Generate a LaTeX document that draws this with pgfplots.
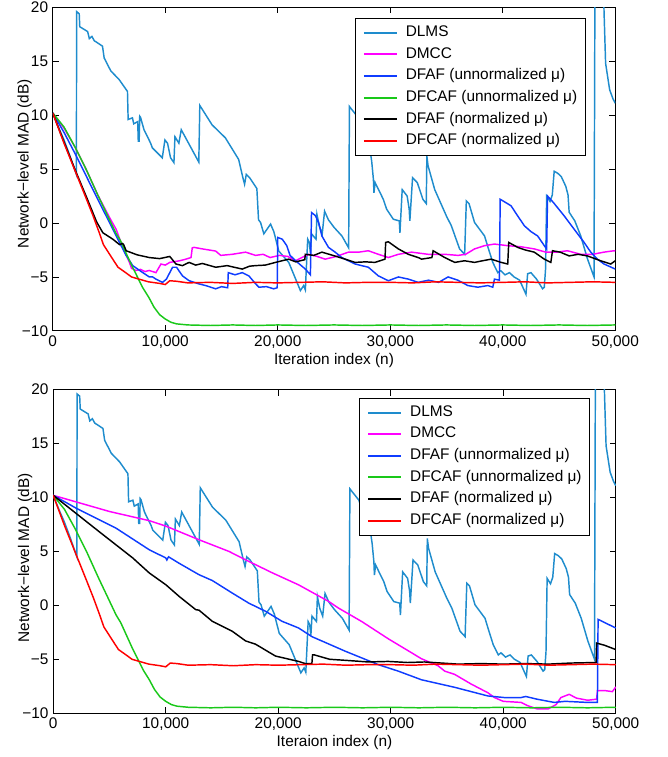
\documentclass[border=0pt]{standalone}
\usepackage{fontspec}
\setmainfont{Liberation Sans}
\usepackage{pgfplots}
\usepackage{pgfplotstable}
\pgfplotsset{compat=1.18}

\definecolor{cdlms}{RGB}{30,140,205}
\definecolor{cdmcc}{RGB}{255,0,255}
\definecolor{cdfaf}{RGB}{15,60,255}
\definecolor{cdfcaf}{RGB}{25,200,25}

% shared curves (both panels)
\pgfplotstableread{
x y
0 10.2
500 8.9
1000 7.7
1500 6.3
2100 4.5
2120 19.6
2350 19.4
2400 18.2
3100 17.75
3250 17.1
3480 17.3
3690 16.9
4420 16.4
4570 15.3
5160 14.1
5900 13.3
6640 12.2
6700 9.6
7080 9.75
7200 9.2
7550 9.4
7600 7.6
7680 7.6
7730 9.9
7800 9.8
8110 8.65
8700 7.4
8850 6.97
9735 6.05
9970 7.7
10200 7.4
10470 6.05
10770 5.6
10860 8.0
11210 7.4
11420 8.65
12980 5.65
13070 10.9
14160 9.1
15340 7.9
16520 5.9
16900 4.2
17050 3.6
17200 4.5
17500 4.2
18140 3.2
18290 0.3
18470 0.05
18760 -1.0
19360 -0.1
19650 -0.8
20090 -2.6
20975 -3.65
22010 -6.26
22300 -5.8
22450 -6.2
22660 -1.5
22800 -1.8
22900 -2.8
23000 -1.0
23400 -1.5
23480 0.8
23700 -0.3
23950 -1.0
24160 1.1
24500 0.3
25000 -0.4
25700 -1.2
26300 -2.3
26370 10.8
27170 9.75
27990 7.1
28200 6.8
28350 5.7
28500 4.05
28550 2.8
28650 3.75
29380 2.2
29680 1.27
30270 0.35
30800 0.2
30860 -0.9
31060 3.1
31500 2.5
31680 1.3
31740 0.2
31980 4.2
32400 3.75
32900 2.2
33200 1.8
33250 6.2
33360 5.3
33950 3.1
34990 0.65
35430 -0.26
36160 -2.4
36610 -2.9
36760 2.05
37000 1.8
37490 0.05
38380 -1.2
38700 -2.3
39110 -3.65
39560 -4.6
39800 -4.4
40200 -4.8
40600 -4.6
41000 -5.0
41500 -5.3
42060 -6.6
42210 -4.7
42500 -4.6
43000 -5.2
43540 -6.1
43690 -5.95
43800 -4.3
43900 2.5
44200 2.0
44400 2.6
44570 4.8
44900 4.6
45200 4.3
45600 3.4
45800 2.6
45900 1.0
46400 0.2
46930 -1.2
47520 -3.3
48110 -5.0
48200 25
48900 25
49000 19.6
49140 14.8
49500 12.35
49800 11.5
50000 11.1
}\dlms

\pgfplotstableread{
x y
0 10.2
1000 8.9
2000 7.0
3000 4.9
4000 2.6
5000 0.4
5590 -0.9
6000 -1.6
7000 -3.9
8000 -6.0
8540 -6.9
9000 -7.8
9500 -8.5
10000 -8.9
10500 -9.2
11000 -9.35
12000 -9.45
14000 -9.5
16000 -9.45
18000 -9.5
20000 -9.45
22500 -9.5
25000 -9.45
27500 -9.5
30000 -9.45
32500 -9.5
35000 -9.45
37500 -9.5
40000 -9.45
42500 -9.5
45000 -9.45
47500 -9.5
50000 -9.45
}\dfcafu

\pgfplotstableread{
x y
0 10.2
1000 7.4
2000 4.8
3000 2.2
3570 0.7
4120 -0.86
4500 -2.0
5300 -3.3
5800 -4.1
6480 -4.6
7000 -5.0
7660 -5.2
8500 -5.45
9500 -5.6
10000 -5.7
10400 -5.35
11000 -5.4
12000 -5.55
14000 -5.5
16000 -5.6
18000 -5.5
20000 -5.55
22000 -5.5
24000 -5.45
26000 -5.55
28000 -5.5
30000 -5.5
32000 -5.55
34000 -5.45
36000 -5.5
38000 -5.55
40000 -5.5
42000 -5.45
44000 -5.55
46000 -5.5
48000 -5.45
50000 -5.5
}\dfcafn

% top panel
\pgfplotstableread{
x y
0 10.2
1000 8.8
2000 7.0
3000 4.9
4000 2.6
5000 0.6
5640 -0.6
6200 -2.2
6815 -3.65
7000 -4.2
7400 -4.4
7800 -4.3
8200 -4.5
8580 -4.4
9170 -4.6
9620 -3.8
10000 -3.9
10400 -3.65
11280 -3.5
11830 -3.35
12290 -3.2
12400 -2.3
12570 -2.26
13300 -2.4
14480 -2.6
14930 -3.0
15960 -2.9
17140 -2.7
18020 -3.0
18700 -2.9
19320 -3.2
20150 -3.0
20900 -3.1
21560 -3.5
22740 -2.9
23500 -3.1
24220 -3.35
25200 -3.1
26280 -2.7
27200 -2.7
28050 -2.57
28940 -2.9
29830 -3.2
30720 -2.9
31890 -2.7
33360 -2.9
34840 -2.9
36020 -3.0
36700 -2.9
37490 -2.4
38380 -2.1
39260 -1.95
40440 -2.1
41600 -2.2
42800 -2.4
43830 -2.7
44800 -2.7
45750 -2.57
46930 -2.9
48000 -2.9
48990 -2.7
49890 -2.57
50000 -2.6
}\dmccA

\pgfplotstableread{
x y
0 10.2
1000 8.4
2000 6.4
3000 4.3
4000 2.2
5340 -0.57
5930 -1.8
6520 -3.0
7110 -3.95
8000 -4.6
8580 -5.0
8880 -5.0
9170 -5.2
9760 -5.5
10100 -5.2
10400 -4.6
10650 -4.1
11000 -4.1
11530 -4.9
12120 -5.35
13010 -5.65
13600 -5.8
14480 -6.1
15000 -5.9
15550 -6.0
15600 -4.6
16200 -4.8
16840 -4.6
17430 -4.9
18000 -5.6
18320 -5.95
19000 -5.9
19640 -6.1
19950 -6.0
20000 -1.34
20400 -1.5
20800 -2.1
21090 -3.0
21700 -3.6
22450 -4.27
22900 -4.8
23000 0.97
23330 0.7
23630 0.05
23920 -1.2
24510 -2.26
25100 -2.7
25690 -3.2
26280 -3.5
26870 -3.8
28050 -4.1
28940 -4.9
29830 -5.35
30720 -5.0
31600 -5.2
32480 -5.5
33400 -5.3
34300 -5.5
35140 -5.0
36000 -5.3
36900 -5.8
37780 -5.95
38670 -5.8
39110 -5.95
39260 -5.2
39700 -5.3
39770 2.2
40100 2.0
40730 1.6
41300 0.7
41920 -0.26
42510 -0.8
43100 -1.2
43690 -2.1
43900 -2.4
43980 2.5
44500 1.9
45460 0.66
46340 -0.57
47230 -1.8
47820 -2.7
48410 -3.35
49000 -3.8
50000 -4.27
}\dfafuA

\pgfplotstableread{
x y
0 10.2
1000 7.5
2000 4.9
3000 2.4
3900 0.1
4450 -0.9
5340 -1.5
5930 -2.0
6200 -1.9
6300 -2.0
6520 -2.57
7500 -2.95
8580 -3.2
9500 -3.3
10400 -3.1
10950 -3.8
11530 -3.95
12120 -3.65
12700 -3.9
13300 -3.75
14480 -4.1
15500 -3.95
16840 -4.27
17500 -4.0
18020 -3.95
18900 -3.9
19800 -3.65
20970 -3.35
21600 -3.6
22400 -3.4
22450 -2.9
23200 -3.0
23920 -2.7
24900 -3.0
25990 -3.35
26870 -3.65
27800 -3.6
28640 -3.65
29530 -3.35
29590 -1.8
29830 -1.74
30720 -2.4
31600 -2.9
32480 -3.2
32780 -3.35
33700 -3.2
33810 -2.57
34840 -3.2
35730 -3.65
36600 -3.5
37490 -3.65
38200 -3.5
38970 -3.35
39850 -3.65
40440 -3.8
40530 -1.8
41330 -2.26
42000 -2.5
42800 -2.7
43690 -3.35
44270 -3.65
44420 -2.57
45100 -2.7
45900 -3.05
46700 -2.9
47520 -3.05
48700 -3.5
49600 -3.8
50000 -3.5
}\dfafnA

% bottom panel
\pgfplotstableread{
x y
0 10.2
3000 9.3
5000 8.7
8540 7.85
10000 7.35
12960 6.08
15620 5.0
17390 4.07
19500 3.0
21810 1.9
24470 0.37
25350 -0.25
27420 -1.5
29780 -3.1
32730 -4.95
34200 -5.6
34800 -6.1
35680 -6.4
37150 -7.3
38630 -8.1
39220 -8.55
40000 -8.9
41580 -9.0
42170 -9.3
43000 -9.6
44000 -9.6
44700 -9.2
45120 -8.55
45860 -8.25
46500 -8.6
47500 -8.8
48300 -8.7
48370 -7.9
49000 -7.9
49700 -8.0
49980 -7.6
50000 -7.6
}\dmccB

\pgfplotstableread{
x y
0 10.2
2050 9.0
5590 7.15
8540 5.15
10000 4.4
10100 4.2
10250 4.5
11190 3.9
12960 2.84
14140 2.3
15910 1.14
17390 0.2
18870 -0.55
20340 -1.48
21810 -2.1
22990 -2.9
25950 -4.25
28900 -5.5
30670 -6.1
32730 -6.9
35680 -7.6
38630 -8.4
40100 -8.55
41580 -8.55
42000 -8.45
43000 -8.7
44530 -9.0
45500 -8.9
47480 -9.0
48370 -9.0
48430 -1.3
50000 -2.1
}\dfafuB

\pgfplotstableread{
x y
0 10.2
4120 6.8
7060 4.4
8540 3.0
10020 1.9
11190 0.83
12670 -0.4
12960 -0.45
14140 -1.48
15910 -2.4
17100 -3.3
17980 -3.6
19750 -4.7
21810 -5.2
22400 -5.4
22990 -5.4
23050 -4.6
23230 -4.6
24560 -5.0
26000 -5.1
28000 -5.25
29780 -5.2
31500 -5.3
33000 -5.25
34500 -5.35
36000 -5.45
38000 -5.4
40000 -5.45
42000 -5.4
44000 -5.45
46000 -5.35
48250 -5.3
48300 -3.5
49000 -3.7
50000 -4.1
}\dfafnB

\pgfplotsset{
  madpanel/.style={
    scale only axis,
    width=423.75pt, height=243.75pt,
    anchor=south west,
    xmin=0, xmax=50000, ymin=-10, ymax=20,
    scaled x ticks=false,
    xtick={0,10000,20000,30000,40000,50000},
    xticklabels={0,{10,000},{20,000},{30,000},{40,000},{50,000}},
    ytick={-10,-5,0,5,10,15,20},
    yticklabels={−10,−5,0,5,10,15,20},
    tick align=inside,
    major tick length=4.5pt,
    tick style={black, line width=0.6pt},
    axis line style={line width=0.8pt},
    ylabel={Network−level MAD (dB)},
    tick label style={font=\fontsize{11.6}{14}\selectfont},
    label style={font=\fontsize{11.6}{14}\selectfont},
    legend cell align=left,
    legend image code/.code={\draw[##1, line width=1.5pt] (0pt,0pt) -- (25pt,0pt);},
    legend style={anchor=north east, draw=black, fill=white,
      font=\fontsize{11.6}{14}\selectfont,
      nodes={inner sep=0pt, text height=8.6pt, text depth=2.8pt},
      row sep=4.9pt, inner xsep=6pt, inner ysep=5pt,
      /tikz/every odd column/.append style={column sep=5.8pt}},
  },
}

\begin{document}
\begin{tikzpicture}
\path[use as bounding box] (0pt,2.5pt) rectangle (502.5pt,-567.75pt);

\begin{axis}[madpanel,
  at={(39.75pt,-246.75pt)},
  xlabel={Iteration index (n)},
  xlabel style={at={(axis description cs:0.5,-0.092)}, anchor=center},
  ylabel style={at={(axis description cs:-0.05,0.517)}, anchor=center, rotate=0},
  legend style={at={(0.947,0.966)}},
]
\addplot[color=cdlms, line width=1.1pt] table {\dlms};
\addplot[color=cdmcc, line width=1.1pt] table {\dmccA};
\addplot[color=cdfaf, line width=1.1pt] table {\dfafuA};
\addplot[color=cdfcaf, line width=1.1pt] table {\dfcafu};
\addplot[color=black, line width=1.1pt] table {\dfafnA};
\addplot[color=red, line width=1.1pt] table {\dfcafn};
\legend{DLMS, DMCC, DFAF (unnormalized μ), DFCAF (unnormalized μ), DFAF (normalized μ), DFCAF (normalized μ)}
\end{axis}

\begin{axis}[madpanel,
  at={(40.1pt,-534.75pt)},
  xlabel={Iteraion index (n)},
  xlabel style={at={(axis description cs:0.5,-0.09)}, anchor=center},
  ylabel style={at={(axis description cs:-0.05,0.48)}, anchor=center, rotate=0},
  legend style={at={(0.954,0.974)}},
]
\addplot[color=cdlms, line width=1.1pt] table {\dlms};
\addplot[color=cdmcc, line width=1.1pt] table {\dmccB};
\addplot[color=cdfaf, line width=1.1pt] table {\dfafuB};
\addplot[color=cdfcaf, line width=1.1pt] table {\dfcafu};
\addplot[color=black, line width=1.1pt] table {\dfafnB};
\addplot[color=red, line width=1.1pt] table {\dfcafn};
\legend{DLMS, DMCC, DFAF (unnormalized μ), DFCAF (unnormalized μ), DFAF (normalized μ), DFCAF (normalized μ)}
\end{axis}
\end{tikzpicture}
\end{document}
